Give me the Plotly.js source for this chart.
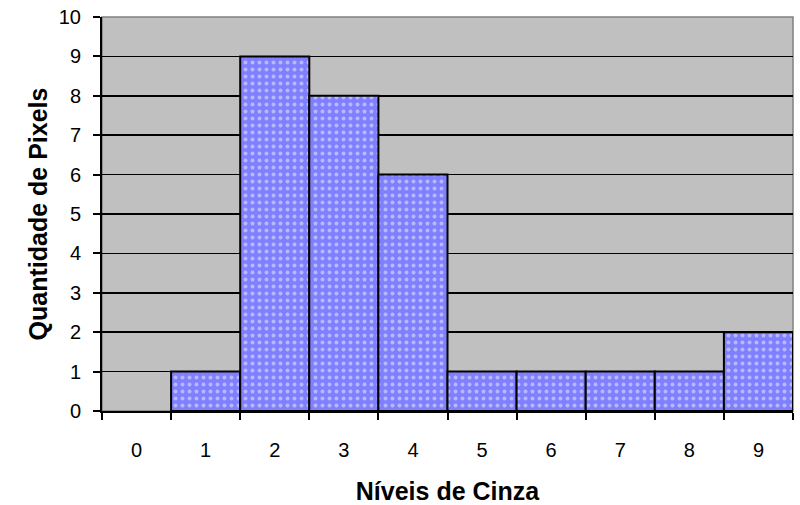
<!DOCTYPE html>
<html><head><meta charset="utf-8">
<script src="https://cdn.plot.ly/plotly-3.0.1.min.js"></script>
<style>body{margin:0;padding:0;background:#fff}#chart{width:800px;height:505px}</style>
</head><body><div id="chart"></div>
<script>
const categories = ['0','1','2','3','4','5','6','7','8','9'];
const values = [0,1,9,8,6,1,1,1,1,2];
const yTicks = [0,1,2,3,4,5,6,7,8,9,10];

Plotly.newPlot('chart', [{
  type: 'bar',
  x: categories,
  y: values,
  marker: {
    color: '#8080FF',
    line: {color: '#000', width: values.map(v => v > 0 ? 2 : 0)},
    pattern: {shape: '.', fgcolor: '#F0F0FF', bgcolor: '#8080FF', size: 7, solidity: 0.25, fillmode: 'overlay'}
  },
  hoverinfo: 'skip'
}], {
  width: 800, height: 505,
  margin: {l: 102, r: 7, t: 17, b: 94},
  paper_bgcolor: '#fff',
  plot_bgcolor: '#C0C0C0',
  bargap: 0,
  showlegend: false,
  font: {family: 'Arial, Liberation Sans, sans-serif', color: '#000', size: 20},
  shapes: [{type: 'rect', xref: 'paper', yref: 'paper', x0: 0, x1: 1, y0: 0, y1: 1,
            line: {color: '#808080', width: 1.5}, layer: 'below'}],
  xaxis: {
    type: 'category',
    range: [-0.5, 9.5],
    tickson: 'boundaries',
    ticks: 'outside', ticklen: 7, tickwidth: 2, tickcolor: '#000',
    ticklabelstandoff: 20,
    showline: true, linecolor: '#000', linewidth: 2,
    showgrid: false,
    tickfont: {size: 20},
    title: {text: 'Níveis de Cinza', font: {size: 25, weight: 'bold'}, standoff: 22}
  },
  yaxis: {
    range: [0, 10],
    tickvals: yTicks,
    ticks: 'outside', ticklen: 7, tickwidth: 2, tickcolor: '#000',
    ticklabelstandoff: 8,
    showline: true, linecolor: '#000', linewidth: 2,
    showgrid: true, gridcolor: '#000', gridwidth: 1.5,
    zeroline: false,
    tickfont: {size: 20},
    title: {text: 'Quantidade de Pixels', font: {size: 25, weight: 'bold'}, standoff: 4}
  }
}, {staticPlot: true});
</script></body></html>
